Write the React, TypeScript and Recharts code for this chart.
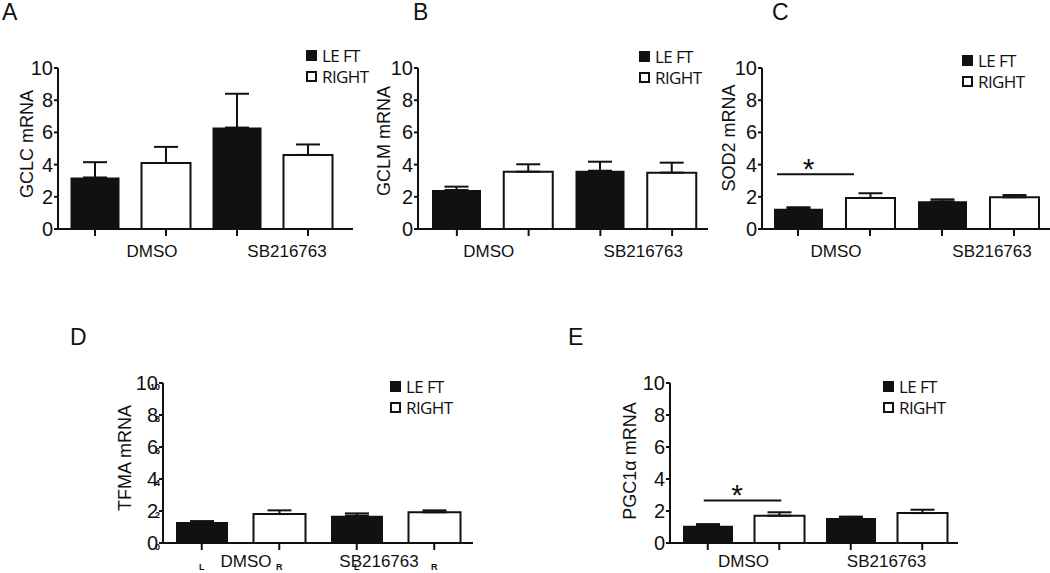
import React from "react";
import { BarChart, Bar, XAxis, YAxis, ErrorBar, Legend, ReferenceLine } from "recharts";

const groups = ["DMSO", "SB216763"];
const sides = ["L", "R"];
const seriesNames = ["LE FT", "RIGHT"];
const yTicks = [0, 2, 4, 6, 8, 10];

// values per group: [DMSO, SB216763]
const gclcLeft = [3.2, 6.3];
const gclcRight = [4.1, 4.6];
const gclcLeftErr = [0.95, 2.1];
const gclcRightErr = [1.0, 0.65];

const gclmLeft = [2.42, 3.62];
const gclmRight = [3.56, 3.5];
const gclmLeftErr = [0.21, 0.56];
const gclmRightErr = [0.46, 0.62];

const sod2Left = [1.26, 1.72];
const sod2Right = [1.93, 1.97];
const sod2LeftErr = [0.09, 0.12];
const sod2RightErr = [0.29, 0.14];

const tfmaLeft = [1.31, 1.71];
const tfmaRight = [1.81, 1.92];
const tfmaLeftErr = [0.06, 0.14];
const tfmaRightErr = [0.23, 0.12];

const pgcLeft = [1.08, 1.56];
const pgcRight = [1.71, 1.87];
const pgcLeftErr = [0.1, 0.09];
const pgcRightErr = [0.21, 0.21];

// height of the significance bar (DMSO left vs right)
const sod2Sig = 3.4;
const pgcSig = 2.66;

const INK = "#111";
const SANS = "'Liberation Sans', Arial, sans-serif";

function buildRows(left: number[], right: number[], leftErr: number[], rightErr: number[]) {
  return groups.flatMap((g, i) => [
    { key: `${g}-L`, left: left[i], right: null, leftErr: [0, leftErr[i]], rightErr: null },
    { key: `${g}-R`, left: null, right: right[i], leftErr: null, rightErr: [0, rightErr[i]] },
  ]);
}

const ValueTick = ({ x, y, payload, doubled }: any) => (
  <g>
    <text x={x} y={y} dy="0.35em" textAnchor="end" style={{ fontSize: 20, fontFamily: SANS }} fill={INK}>
      {payload.value}
    </text>
    {doubled && (
      <text
        x={x + 2}
        y={y + 4}
        dy="0.35em"
        textAnchor="end"
        style={{ fontSize: 9, fontWeight: "bold", fontFamily: SANS }}
        fill={INK}
      >
        {payload.value}
      </text>
    )}
  </g>
);

const GroupTick = ({ x, y, payload, bandHalf, shifts, dy, sideLabels }: any) => {
  const idx = payload.index;
  const g = Math.floor(idx / 2);
  return (
    <g>
      {idx % 2 === 0 && (
        <text
          x={x + bandHalf + shifts[g]}
          y={y + dy}
          textAnchor="middle"
          style={{ fontSize: 17, fontFamily: SANS }}
          fill={INK}
        >
          {groups[g]}
        </text>
      )}
      {sideLabels && (
        <text
          x={x}
          y={y + 18}
          textAnchor="middle"
          style={{ fontSize: 9, fontWeight: "bold", fontFamily: SANS }}
          fill={INK}
        >
          {sides[idx % 2]}
        </text>
      )}
    </g>
  );
};

const LegendBox = ({ payload }: any) => (
  <div style={{ fontFamily: "'Open Sans', sans-serif", fontSize: 17, letterSpacing: -0.6, color: INK, lineHeight: 1 }}>
    {(payload || []).map((e: any, i: number) => (
      <div key={i} style={{ display: "flex", alignItems: "center", height: 21 }}>
        <span
          style={{
            width: 11,
            height: 11,
            boxSizing: "border-box",
            background: i === 0 ? INK : "#fff",
            border: i === 0 ? "none" : `2.5px solid ${INK}`,
            marginRight: 5,
          }}
        />
        <span>{e.value}</span>
      </div>
    ))}
  </div>
);

type PanelProps = {
  letter: string;
  letterPos: [number, number];
  title: string;
  titlePos: [number, number];
  rows: any[];
  box: { left: number; top: number; width: number; height: number };
  yAxisWidth: number;
  marginTop: number;
  marginRight: number;
  xHeight: number;
  padding: { left: number; right: number };
  barSize: number;
  legendPos: { left: number; top: number };
  labelShifts: number[];
  labelDy: number;
  sig?: { value: number; dx1: number; dx2: number; starDx: number };
  sideLabels?: boolean;
  doubled?: boolean;
};

function Panel(p: PanelProps) {
  const plotW = p.box.width - p.yAxisWidth - p.marginRight;
  const bandHalf = (plotW - p.padding.left - p.padding.right) / 8;
  const axisStyle = { stroke: INK, strokeWidth: 2 };
  return (
    <>
      <div
        style={{
          position: "absolute",
          left: p.letterPos[0],
          top: p.letterPos[1],
          fontFamily: SANS,
          fontSize: 23,
          lineHeight: 1,
          color: INK,
        }}
      >
        {p.letter}
      </div>
      <div style={{ position: "absolute", left: p.box.left, top: p.box.top }}>
        <BarChart
          width={p.box.width}
          height={p.box.height}
          data={p.rows}
          margin={{ top: p.marginTop, right: p.marginRight, left: 0, bottom: 0 }}
        >
          <XAxis
            dataKey="key"
            type="category"
            interval={0}
            height={p.xHeight}
            padding={p.padding}
            tickSize={7}
            axisLine={axisStyle}
            tickLine={axisStyle}
            tick={(t: any) => (
              <GroupTick {...t} bandHalf={bandHalf} shifts={p.labelShifts} dy={p.labelDy} sideLabels={p.sideLabels} />
            )}
          />
          <YAxis
            domain={[0, 10]}
            ticks={yTicks}
            interval={0}
            width={p.yAxisWidth}
            tickSize={4}
            tickMargin={1}
            axisLine={axisStyle}
            tickLine={axisStyle}
            tick={(t: any) => <ValueTick {...t} doubled={p.doubled} />}
          />
          <Legend
            layout="horizontal"
            verticalAlign="middle"
            align="center"
            wrapperStyle={{ left: p.legendPos.left, top: p.legendPos.top, width: "auto", height: "auto" }}
            content={<LegendBox />}
          />
          <Bar dataKey="left" name={seriesNames[0]} stackId="s" fill={INK} barSize={p.barSize} isAnimationActive={false}>
            <ErrorBar dataKey="leftErr" width={12} stroke={INK} strokeWidth={2} />
          </Bar>
          <Bar
            dataKey="right"
            name={seriesNames[1]}
            stackId="s"
            fill="#fff"
            stroke={INK}
            strokeWidth={2}
            barSize={p.barSize}
            isAnimationActive={false}
          >
            <ErrorBar dataKey="rightErr" width={12} stroke={INK} strokeWidth={2} />
          </Bar>
          {p.sig && (
            <ReferenceLine
              segment={[
                { x: `${groups[0]}-L`, y: p.sig.value },
                { x: `${groups[0]}-R`, y: p.sig.value },
              ]}
              shape={(s: any) => (
                <g>
                  <line x1={s.x1 + p.sig!.dx1} y1={s.y1} x2={s.x2 + p.sig!.dx2} y2={s.y2} stroke={INK} strokeWidth={2} />
                  <text
                    x={(s.x1 + p.sig!.dx1 + s.x2 + p.sig!.dx2) / 2 + p.sig!.starDx}
                    y={s.y1 + 5}
                    textAnchor="middle"
                    style={{ fontSize: 30, fontFamily: SANS }}
                    fill={INK}
                  >
                    *
                  </text>
                </g>
              )}
            />
          )}
        </BarChart>
      </div>
      <div
        style={{
          position: "absolute",
          left: p.titlePos[0],
          top: p.titlePos[1],
          transform: "translate(-50%, -50%) rotate(-90deg)",
          whiteSpace: "nowrap",
          fontFamily: SANS,
          fontSize: 18,
          lineHeight: 1,
          color: INK,
        }}
      >
        {p.title}
      </div>
    </>
  );
}

export default function App() {
  return (
    <div
      style={{
        position: "absolute",
        left: 0,
        top: 0,
        width: 1050,
        height: 573,
        background: "#fff",
        overflow: "hidden",
      }}
    >
      <Panel
        letter="A"
        letterPos={[2, 0.5]}
        title="GCLC mRNA"
        titlePos={[27, 144]}
        rows={buildRows(gclcLeft, gclcRight, gclcLeftErr, gclcRightErr)}
        box={{ left: 0, top: 40, width: 360, height: 230 }}
        yAxisWidth={58}
        marginTop={28}
        marginRight={7}
        xHeight={41}
        padding={{ left: 1.5, right: 9.5 }}
        barSize={49}
        legendPos={{ left: 306, top: 4.5 }}
        labelShifts={[21.5, 14.5]}
        labelDy={19}
      />
      <Panel
        letter="B"
        letterPos={[413, 0.5]}
        title="GCLM mRNA"
        titlePos={[384, 141]}
        rows={buildRows(gclmLeft, gclmRight, gclmLeftErr, gclmRightErr)}
        box={{ left: 360, top: 40, width: 350, height: 230 }}
        yAxisWidth={58}
        marginTop={28}
        marginRight={2}
        xHeight={41}
        padding={{ left: 3, right: 0 }}
        barSize={49}
        legendPos={{ left: 279, top: 5.5 }}
        labelShifts={[-4, 7]}
        labelDy={19}
      />
      <Panel
        letter="C"
        letterPos={[772, 0.5]}
        title="SOD2 mRNA"
        titlePos={[729, 138]}
        rows={buildRows(sod2Left, sod2Right, sod2LeftErr, sod2RightErr)}
        box={{ left: 705, top: 40, width: 345, height: 230 }}
        yAxisWidth={57}
        marginTop={28}
        marginRight={0}
        xHeight={41}
        padding={{ left: 0, right: 0 }}
        barSize={49}
        legendPos={{ left: 257, top: 9.5 }}
        labelShifts={[2, 14]}
        labelDy={19}
        sig={{ value: sod2Sig, dx1: -21, dx2: -16, starDx: -7 }}
      />
      <Panel
        letter="D"
        letterPos={[70, 325.5]}
        title="TFMA mRNA"
        titlePos={[125, 458]}
        rows={buildRows(tfmaLeft, tfmaRight, tfmaLeftErr, tfmaRightErr)}
        box={{ left: 80, top: 355, width: 400, height: 218 }}
        yAxisWidth={83}
        marginTop={28}
        marginRight={7}
        xHeight={30}
        padding={{ left: 0, right: 0 }}
        barSize={52}
        legendPos={{ left: 310, top: 20.5 }}
        labelShifts={[5.5, -16.5]}
        labelDy={15}
        sideLabels
        doubled
      />
      <Panel
        letter="E"
        letterPos={[568, 325.5]}
        title="PGC1α mRNA"
        titlePos={[630, 461]}
        rows={buildRows(pgcLeft, pgcRight, pgcLeftErr, pgcRightErr)}
        box={{ left: 590, top: 355, width: 380, height: 218 }}
        yAxisWidth={80}
        marginTop={28}
        marginRight={12}
        xHeight={30}
        padding={{ left: 2, right: 0 }}
        barSize={50}
        legendPos={{ left: 293, top: 20.5 }}
        labelShifts={[0, 0]}
        labelDy={15}
        sig={{ value: pgcSig, dx1: -4, dx2: 2, starDx: -5.5 }}
      />
    </div>
  );
}
